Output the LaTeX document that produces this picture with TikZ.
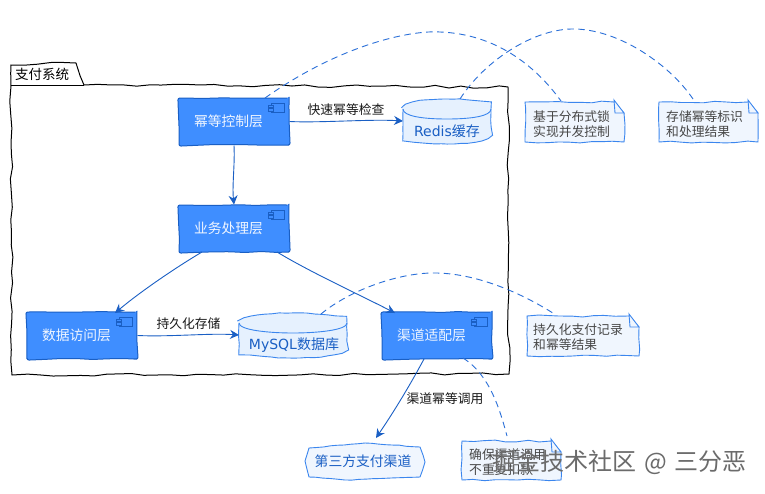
\documentclass[tikz,border=0pt]{standalone}
\usepackage{fontspec}
\setmainfont{Noto Sans CJK SC}
\newfontfamily\latinf{DejaVu Sans}
\usetikzlibrary{arrows.meta,decorations.pathmorphing,calc}
\definecolor{blueB}{HTML}{1A5FC4}
\definecolor{blueF}{HTML}{3F8EFF}
\definecolor{paleF}{HTML}{E6F1FE}
\definecolor{noteF}{HTML}{F0F6FE}
\definecolor{noteL}{HTML}{3B86EE}
\definecolor{tieC}{HTML}{2A6FD8}
\tikzset{x=1pt,y=-1pt,
 rough/.style={decorate,decoration={random steps,segment length=13pt,amplitude=1.3pt}},
 roughfine/.style={decorate,decoration={random steps,segment length=7pt,amplitude=.4pt}},
 comp/.style={draw=blueB,fill=blueF,line width=1pt,rounded corners=2pt,decorate,decoration={random steps,segment length=16pt,amplitude=.5pt},minimum width=110pt,minimum height=47pt,text=white!92!blueF,font=\fontsize{13.8}{16}\selectfont,inner sep=0pt},
 db/.style={font=\fontsize{14}{16}\selectfont,text=blueB,inner sep=0pt},
 notetxt/.style={font=\fontsize{12.8}{15}\selectfont,text=black!72,align=left,inner sep=0pt,anchor=north west},
 lbl/.style={font=\fontsize{12.8}{15}\selectfont,inner sep=0pt,text=black!90},
 flow/.style={draw=blueB,line width=.9pt,-{Stealth[length=9pt,width=9pt,inset=3pt]}},
 tie/.style={draw=tieC,line width=.9pt,dash pattern=on 6.5pt off 4.5pt}
}
\newcommand{\compicon}[1]{%
 \draw[blueB,line width=.8pt] ($(#1.north east)+(-18,6)$) rectangle ($(#1.north east)+(-5,15)$);
 \draw[blueB,line width=.8pt,fill=blueF] ($(#1.north east)+(-21,7.5)$) rectangle ($(#1.north east)+(-16,10)$);
 \draw[blueB,line width=.8pt,fill=blueF] ($(#1.north east)+(-21,11)$) rectangle ($(#1.north east)+(-16,13.5)$);}
\newcommand{\compname}[1]{\raisebox{-6pt}{#1\hspace{11pt}}}
% left, top, right, bottom, lid bottom, centre x
\newcommand{\dbshape}[6]{%
 \draw[noteL,fill=paleF,line width=.9pt,roughfine]
   (#1,#2+10) -- (#1,#4-10) .. controls (#1,#4-3) and (#6-25,#4) .. (#6,#4)
   .. controls (#6+25,#4) and (#3,#4-3) .. (#3,#4-10)
   -- (#3,#2+10) .. controls (#3,#2+3) and (#6+25,#2) .. (#6,#2)
   .. controls (#6-25,#2) and (#1,#2+3) .. cycle;
 \draw[noteL,line width=.9pt] (#1,#2+10) .. controls (#1,#5-3) and (#6-25,#5) .. (#6,#5)
   .. controls (#6+25,#5) and (#3,#5-3) .. (#3,#2+10);}
\newcommand{\notebox}[4]{%
 \draw[noteL,fill=noteF,line width=.9pt,decorate,decoration={random steps,segment length=11pt,amplitude=1pt}] (#1,#2) -- (#3-10,#2) -- (#3,#2+11) -- (#3,#4) -- (#1,#4) -- cycle;
 \draw[noteL,line width=.9pt,fill=noteF] (#3-10,#2-2) -- (#3-9,#2+11) -- (#3,#2+11) -- cycle;}
\begin{document}
\begin{tikzpicture}
\useasboundingbox (0,0) rectangle (765,493);
\fill[white] (0,0) rectangle (765,493);
\pgfmathsetseed{7}
% package frame
\draw[black,line width=1pt,rough] (11,86) -- (11,65) -- (76,63) -- (84,85) -- (508,87) -- (509,374) -- (12,375) -- cycle;
\draw[black,line width=.8pt] (11,85.5) -- (84,85.5);
\node[anchor=west,inner sep=0pt,font=\fontsize{13.5}{16}\selectfont] (pkg) at (15,74) {支付系统};
% nodes
\node[comp] (mideng) at (234,121.5) {\compname{幂等控制层}};
\node[comp] (yewu) at (234,228.5) {\compname{业务处理层}};
\node[comp] (shuju) at (82,335.5) {\compname{数据访问层}};
\node[comp] (qudao) at (437,335.5) {\compname{渠道适配层}};
\compicon{mideng}\compicon{yewu}\compicon{shuju}\compicon{qudao}
\dbshape{403}{99}{491}{144}{119}{447}
\dbshape{239}{313}{347}{358}{333}{293}
\node[db] (redis) at (447,131) {{\latinf Redis}缓存};
\node[db] (mysql) at (294,345) {{\latinf MySQL}数据库};
\coordinate (redisW) at (403,121);
\coordinate (mysqlW) at (239,335);
% channel
\draw[noteL,fill=noteF,line width=.9pt,roughfine] (309,448) -- (305,461) -- (309,477) -- (345,480) -- (420,477) -- (425,462) -- (420,447) -- (365,443) -- cycle;
\node[font=\fontsize{13.8}{16}\selectfont,text=blueB,inner sep=0pt] (third) at (363,461.5) {第三方支付渠道};
% notes
\notebox{525}{102}{624}{142}
\notebox{659}{102}{758}{142}
\notebox{527}{316}{639}{356}
\notebox{462}{441}{561}{480}
\node[notetxt] (n1) at (533,110) {基于分布式锁\\实现并发控制};
\node[notetxt] (n2) at (666,110) {存储幂等标识\\和处理结果};
\node[notetxt] (n3) at (533,324) {持久化支付记录\\和幂等结果};
\node[notetxt] (n4) at (469,448) {确保渠道调用\\不重复扣款};
\coordinate (n1T) at (561,101);\coordinate (n2T) at (693,99);\coordinate (n3T) at (556,315);\coordinate (n4T) at (507,436);
% connectors
\draw[flow] (mideng.east) .. controls (320,123) and (370,119) .. (redisW);
\node[lbl] (l1) at (346,110) {快速幂等检查};
\draw[flow] (mideng.south) .. controls (235,165) and (232,185) .. (yewu.north);
\draw[flow] (202,252) .. controls (175,268) and (140,292) .. (115,313);
\draw[flow] (277,252) .. controls (310,272) and (360,295) .. (395,313);
\draw[flow] (shuju.east) .. controls (170,337) and (210,333) .. (mysqlW);
\node[lbl] (l2) at (188.5,324) {持久化存储};
\draw[flow] (424,359) .. controls (410,385) and (395,410) .. (376,438);
\node[lbl] (l3) at (445,399) {渠道幂等调用};
\draw[tie] (265,98) .. controls (340,45) and (410,30) .. (440,32) .. controls (495,34) and (535,65) .. (n1T);
\draw[tie] (460,99) .. controls (485,60) and (535,28) .. (575,29) .. controls (620,30) and (670,65) .. (n2T);
\draw[tie] (321,314) .. controls (350,290) and (400,272) .. (437,273) .. controls (480,274) and (525,295) .. (n3T);
\draw[tie] (463,358) .. controls (490,375) and (500,410) .. (n4T);
% watermark
\node[inner sep=0pt,anchor=west,font=\fontsize{24}{28}\selectfont,text=black!58] (wm) at (492,462) {掘金技术社区\hspace{8pt}@\hspace{8pt}三分恶};
\end{tikzpicture}
\end{document}
